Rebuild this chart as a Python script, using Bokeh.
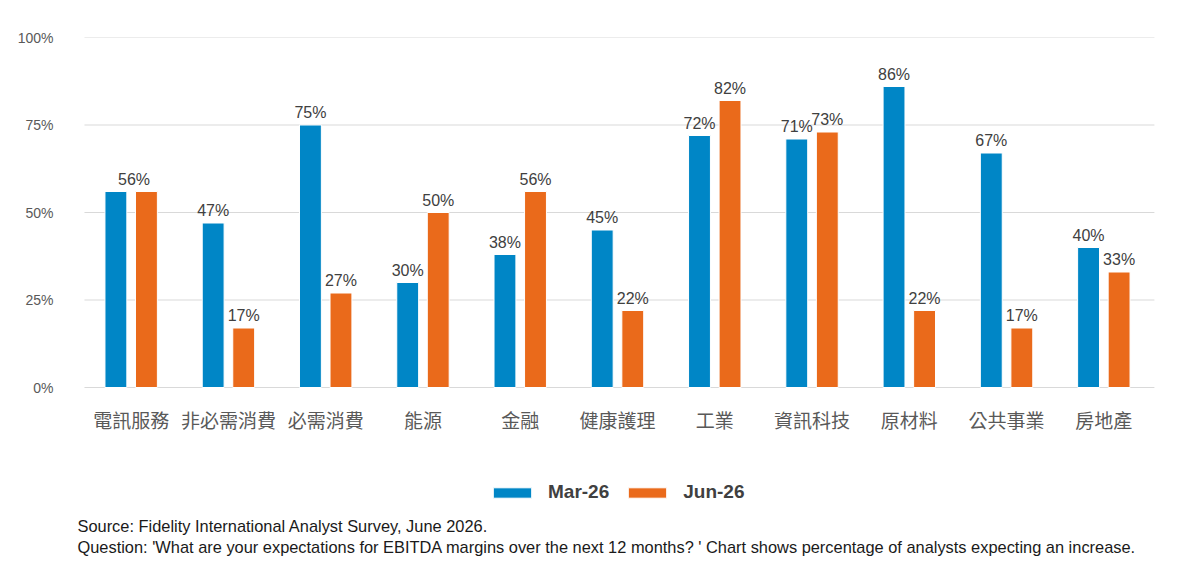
from bokeh.plotting import figure
from bokeh.models import (ColumnDataSource, FactorRange, Range1d, FixedTicker,
                          Legend, LegendItem, Label)
from bokeh.transform import dodge
from bokeh.core.properties import value
from bokeh.embed import file_html
from bokeh.resources import INLINE

categories = ["電訊服務", "非必需消費", "必需消費", "能源", "金融", "健康護理",
              "工業", "資訊科技", "原材料", "公共事業", "房地產"]
mar_26 = [56, 47, 75, 30, 38, 45, 72, 71, 86, 67, 40]
jun_26 = [56, 17, 27, 50, 56, 22, 82, 73, 22, 17, 33]
series_names = ["Mar-26", "Jun-26"]
y_ticks = [0, 25, 50, 75, 100]
y_tick_labels = ["0%", "25%", "50%", "75%", "100%"]
source_lines = [
    "Source: Fidelity International Analyst Survey, June 2026.",
    "Question: 'What are your expectations for EBITDA margins over the next 12 months? ' "
    "Chart shows percentage of analysts expecting an increase.",
]

BLUE = "#0086C6"
ORANGE = "#EA6A1B"
FONT = "Liberation Sans"
W_PX, H_PX = 1184, 563
LEFT, RIGHT, TOP = 70, 20, 37
PX_PER_UNIT = 3.5          # vertical pixels per percentage point
BASE_PX = 387              # pixel row of the 0% baseline
y_min = -(H_PX - BASE_PX) / PX_PER_UNIT

src = ColumnDataSource(dict(cat=categories, mar=mar_26, jun=jun_26,
                            zero=[0] * len(categories)))

xr = FactorRange(*categories, range_padding=0.0225, range_padding_units="percent")
p = figure(x_range=xr, y_range=Range1d(y_min, 100),
           width=W_PX, height=H_PX, output_backend="svg", toolbar_location=None,
           min_border_left=LEFT, min_border_right=RIGHT, min_border_top=TOP,
           min_border_bottom=0)
p.outline_line_color = None
p.background_fill_color = "white"
p.border_fill_color = "white"
p.xaxis.visible = False
p.xgrid.grid_line_color = None
p.ygrid.grid_line_color = None

# gridlines spanning the category band
grid_src = ColumnDataSource(dict(a=[categories[0]] * len(y_ticks),
                                 b=[categories[-1]] * len(y_ticks), y=y_ticks))
p.segment(x0=dodge("a", -0.48, range=xr), x1=dodge("b", 0.52, range=xr),
          y0="y", y1="y", source=grid_src, line_color="#D9D9D9", line_width=1)

OFF = 0.157
W = 0.225
rb = p.vbar(x=dodge("cat", -OFF, range=xr), top="mar", width=W, source=src,
            fill_color=BLUE, line_color="white", line_width=1)
ro = p.vbar(x=dodge("cat", OFF, range=xr), top="jun", width=W, source=src,
            fill_color=ORANGE, line_color="white", line_width=1)

# value labels
diff_idx = [i for i in range(len(categories)) if mar_26[i] != jun_26[i]]
same_idx = [i for i in range(len(categories)) if mar_26[i] == jun_26[i]]
lab_common = dict(text_align="center", text_baseline="bottom", y_offset=-4,
                  text_font=value(FONT), text_font_size="16px", text_color="#404040")
s_mar = ColumnDataSource(dict(cat=[categories[i] for i in diff_idx],
                              v=[mar_26[i] for i in diff_idx],
                              t=[f"{mar_26[i]}%" for i in diff_idx]))
s_jun = ColumnDataSource(dict(cat=[categories[i] for i in diff_idx],
                              v=[jun_26[i] for i in diff_idx],
                              t=[f"{jun_26[i]}%" for i in diff_idx]))
s_same = ColumnDataSource(dict(cat=[categories[i] for i in same_idx],
                               v=[mar_26[i] for i in same_idx],
                               t=[f"{mar_26[i]}%" for i in same_idx]))
p.text(x=dodge("cat", -OFF, range=xr), y="v", text="t", source=s_mar, **lab_common)
p.text(x=dodge("cat", OFF, range=xr), y="v", text="t", source=s_jun, **lab_common)
p.text(x=dodge("cat", 0.03, range=xr), y="v", text="t", source=s_same, **lab_common)

# category labels under the baseline
p.text(x="cat", y="zero", text="cat", source=src, y_offset=32,
       text_align="center", text_baseline="middle",
       text_font=value("Noto Sans CJK TC"), text_font_size="19px",
       text_color="#595959")

# y axis
ya = p.yaxis[0]
ya.ticker = FixedTicker(ticks=y_ticks)
ya.major_label_overrides = {t: l for t, l in zip(y_ticks, y_tick_labels)}
ya.axis_line_color = None
ya.major_tick_line_color = None
ya.minor_tick_line_color = None
ya.major_tick_out = 0
ya.major_tick_in = 0
ya.major_label_standoff = 17
ya.major_label_text_font = FONT
ya.major_label_text_font_size = "14px"
ya.major_label_text_color = "#595959"

# legend
legend = Legend(items=[LegendItem(label=series_names[0], renderers=[rb]),
                       LegendItem(label=series_names[1], renderers=[ro])],
                orientation="horizontal", location=(418, 60),
                glyph_width=48, glyph_height=13, label_standoff=12, spacing=14,
                padding=0, margin=0, border_line_color=None,
                background_fill_alpha=0,
                label_text_font=FONT, label_text_font_size="19px",
                label_text_font_style="bold", label_text_color="#404040")
p.add_layout(legend)

# source text
for line, yy in zip(source_lines, [38, 17]):
    p.add_layout(Label(x=7, y=yy, x_units="screen", y_units="screen", text=line,
                       text_font=FONT, text_font_size="16.4px", text_color="#1A1A1A",
                       text_baseline="middle", text_align="left"))

open("out.html", "w").write(file_html(p, INLINE))
